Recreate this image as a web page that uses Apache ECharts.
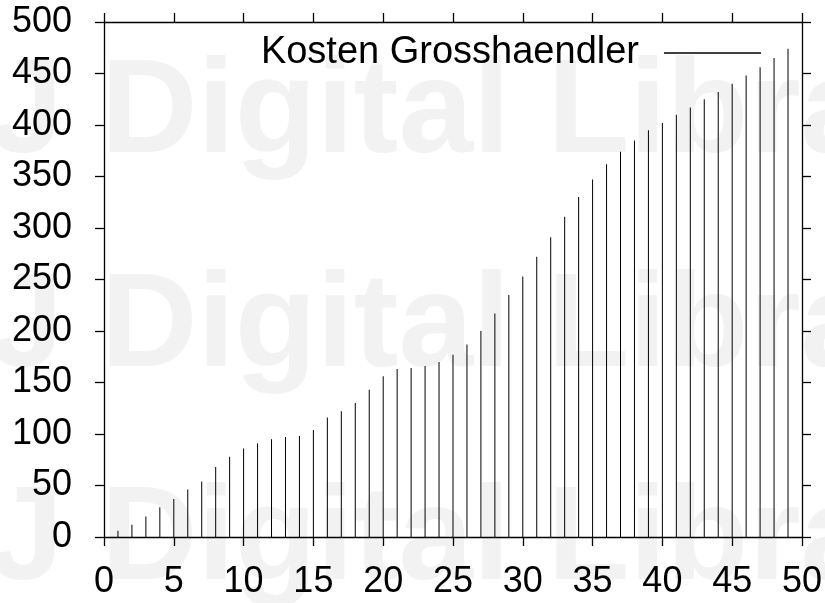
<!DOCTYPE html>
<html>
<head>
<meta charset="utf-8">
<script src="https://cdn.jsdelivr.net/npm/echarts@6/dist/echarts.min.js"></script>
<style>
  html, body { margin: 0; padding: 0; background: #fff; }
  #chart { width: 825px; height: 603px; }
</style>
</head>
<body>
<div id="chart"></div>
<script>
// x positions of the impulses
const xValues = [1, 2, 3, 4, 5, 6, 7, 8, 9, 10, 11, 12, 13, 14, 15, 16, 17, 18, 19, 20,
  21, 22, 23, 24, 25, 26, 27, 28, 29, 30, 31, 32, 33, 34, 35, 36, 37, 38, 39, 40,
  41, 42, 43, 44, 45, 46, 47, 48, 49];
// Kosten Grosshaendler
const costs = [6, 12, 20, 29, 37, 46, 54, 68, 78, 86, 91, 95, 97, 98, 104, 116, 122, 130, 143, 156,
  163, 164, 166, 170, 177, 187, 200, 217, 235, 253, 272, 291, 311, 330, 347, 362, 374, 385, 395, 402,
  410, 417, 425, 432, 440, 448, 456, 465, 474];
const seriesName = "Kosten Grosshaendler";
const watermarkText = "J Digital Library";

let chart = echarts.init(document.getElementById("chart"));

const font = "'Liberation Sans', Arial, sans-serif";
const axisLine = { show: true, onZero: false, lineStyle: { color: "#000", width: 1.3 } };
const axisTick = { show: true, inside: false, length: 9, lineStyle: { color: "#000", width: 1.3 } };

let points = [];
for (let i = 0; i < xValues.length; i++) {
  points.push([xValues[i], costs[i]]);
}

// watermark rows
let graphic = [];
const rowCenters = [115, 329, 542];
for (let i = 0; i < rowCenters.length; i++) {
  graphic.push({
    type: "text",
    z: -10,
    silent: true,
    x: -11,
    y: rowCenters[i],
    style: {
      text: watermarkText,
      fill: "#f2f2f2",
      font: "bold 134px " + font,
      verticalAlign: "middle"
    }
  });
}

let option = {
  animation: false,
  backgroundColor: "#fff",
  graphic: graphic,
  grid: { left: 104, right: 22, top: 22, bottom: 66 },
  legend: {
    right: 59,
    top: 29,
    align: "right",
    itemWidth: 97,
    itemHeight: 1.3,
    data: [{ name: seriesName, icon: "rect" }],
    textStyle: {
      color: "#000",
      fontSize: 38,
      fontFamily: font,
      padding: [0, 20, 0, 0]
    }
  },
  xAxis: [
    {
      type: "value",
      position: "bottom",
      min: 0,
      max: 50,
      interval: 5,
      axisLine: axisLine,
      axisTick: axisTick,
      splitLine: { show: false },
      axisLabel: { color: "#000", fontSize: 36, fontFamily: font, margin: 27 }
    },
    {
      type: "value",
      position: "top",
      min: 0,
      max: 50,
      interval: 5,
      axisLine: axisLine,
      axisTick: axisTick,
      splitLine: { show: false },
      axisLabel: { show: false }
    }
  ],
  yAxis: [
    {
      type: "value",
      position: "left",
      min: 0,
      max: 500,
      interval: 50,
      axisLine: axisLine,
      axisTick: axisTick,
      splitLine: { show: false },
      axisLabel: { color: "#000", fontSize: 36, fontFamily: font, margin: 32 }
    },
    {
      type: "value",
      position: "right",
      min: 0,
      max: 500,
      interval: 50,
      axisLine: axisLine,
      axisTick: axisTick,
      splitLine: { show: false },
      axisLabel: { show: false }
    }
  ],
  series: [
    {
      name: seriesName,
      type: "bar",
      barWidth: 1,
      itemStyle: { color: "#000" },
      data: points
    }
  ]
};

chart.setOption(option);
</script>
</body>
</html>
